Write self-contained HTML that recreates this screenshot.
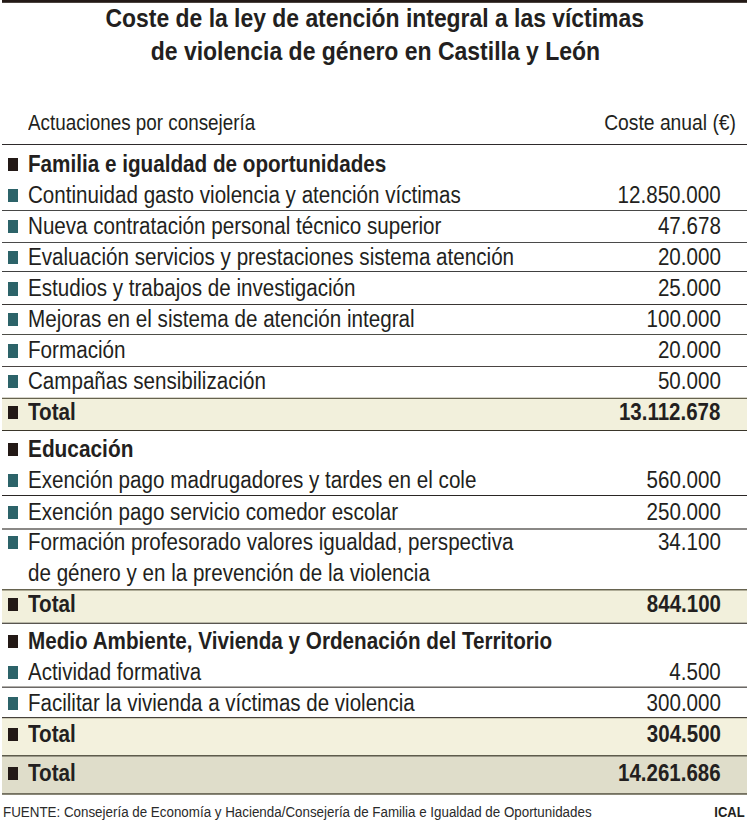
<!DOCTYPE html>
<html><head><meta charset="utf-8"><title>Coste ley violencia de género</title>
<style>
html,body{margin:0;padding:0;background:#fff;}
body{width:750px;height:824px;position:relative;overflow:hidden;font-family:"Liberation Sans",sans-serif;}
.t{position:absolute;white-space:nowrap;}
.r{position:absolute;}
</style></head><body>
<div class="r" style="left:2px;top:0px;width:745px;height:2px;background:#231916;"></div>
<div class="r" style="left:2px;top:2px;width:745px;height:1px;background:#4a423e;"></div>
<div class="t" style="left:0;width:750px;text-align:center;top:5.81px;font-size:25.5px;line-height:25.5px;font-weight:bold;color:#231f20;"><span style="display:inline-block;transform:scaleX(0.898);transform-origin:center 0;">Coste de la ley de atención integral a las víctimas</span></div>
<div class="t" style="left:0;width:750px;text-align:center;top:38.71px;font-size:25.5px;line-height:25.5px;font-weight:bold;color:#231f20;"><span style="display:inline-block;transform:scaleX(0.901);transform-origin:center 0;">de violencia de género en Castilla y León</span></div>
<div class="t" style="left:28.00px;top:113.30px;font-size:21.5px;line-height:21.5px;transform:scaleX(0.8760);transform-origin:left 0;color:#231f20;">Actuaciones por consejería</div>
<div class="t" style="right:14.50px;top:113.30px;font-size:21.5px;line-height:21.5px;transform:scaleX(0.8970);transform-origin:right 0;color:#231f20;">Coste anual (€)</div>
<div class="r" style="left:2px;top:399px;width:745px;height:31px;background:#f2f0dc;"></div>
<div class="r" style="left:2px;top:590px;width:745px;height:33px;background:#f2f0dc;"></div>
<div class="r" style="left:2px;top:718px;width:745px;height:37px;background:#f3f1dd;"></div>
<div class="r" style="left:2px;top:756px;width:745px;height:37px;background:#dfddca;"></div>
<div class="r" style="left:2px;top:144px;width:745px;height:1px;background:#2e2a2b;"></div>
<div class="r" style="left:2px;top:210px;width:745px;height:1px;background:#474746;"></div>
<div class="r" style="left:2px;top:242px;width:745px;height:1px;background:#4a4a4a;"></div>
<div class="r" style="left:2px;top:271px;width:745px;height:1px;background:#404040;"></div>
<div class="r" style="left:2px;top:304px;width:745px;height:1px;background:#3a3634;"></div>
<div class="r" style="left:2px;top:334px;width:745px;height:1px;background:#4e4e48;"></div>
<div class="r" style="left:2px;top:366px;width:745px;height:1px;background:#4a4442;"></div>
<div class="r" style="left:2px;top:397px;width:745px;height:1px;background:#d6d4ca;"></div>
<div class="r" style="left:2px;top:398px;width:745px;height:1px;background:#66634f;"></div>
<div class="r" style="left:2px;top:430px;width:745px;height:1px;background:#3a362a;"></div>
<div class="r" style="left:2px;top:495px;width:745px;height:1px;background:#2a2624;"></div>
<div class="r" style="left:2px;top:528px;width:745px;height:1px;background:#8a8886;"></div>
<div class="r" style="left:2px;top:529px;width:745px;height:1px;background:#8a8886;"></div>
<div class="r" style="left:2px;top:589px;width:745px;height:1px;background:#66634f;"></div>
<div class="r" style="left:2px;top:590px;width:745px;height:1px;background:#b0ad98;"></div>
<div class="r" style="left:2px;top:622px;width:745px;height:1px;background:#bab8a8;"></div>
<div class="r" style="left:2px;top:623px;width:745px;height:1px;background:#585550;"></div>
<div class="r" style="left:2px;top:686px;width:745px;height:1px;background:#b0aeaa;"></div>
<div class="r" style="left:2px;top:687px;width:745px;height:1px;background:#6b6866;"></div>
<div class="r" style="left:2px;top:717px;width:745px;height:1px;background:#46413a;"></div>
<div class="r" style="left:2px;top:718px;width:745px;height:1px;background:#cfccb8;"></div>
<div class="r" style="left:2px;top:755px;width:745px;height:1px;background:#5e5c4c;"></div>
<div class="r" style="left:2px;top:756px;width:745px;height:1px;background:#9a9888;"></div>
<div class="r" style="left:2px;top:793px;width:745px;height:1px;background:#737060;"></div>
<div class="r" style="left:2px;top:794px;width:745px;height:1px;background:#8a8878;"></div>
<div class="r" style="left:8px;top:158px;width:10px;height:13px;background:#231916;"></div>
<div class="t" style="left:27.80px;top:152.71px;font-size:23.5px;line-height:23.5px;font-weight:bold;transform:scaleX(0.8794);transform-origin:left 0;color:#231f20;">Familia e igualdad de oportunidades</div>
<div class="r" style="left:8px;top:189px;width:10px;height:13px;background:#2c6369;"></div>
<div class="t" style="left:27.80px;top:183.71px;font-size:23.5px;line-height:23.5px;transform:scaleX(0.8764);transform-origin:left 0;color:#231f20;">Continuidad gasto violencia y atención víctimas</div>
<div class="t" style="right:29.20px;top:183.71px;font-size:23.5px;line-height:23.5px;transform:scaleX(0.8760);transform-origin:right 0;color:#231f20;">12.850.000</div>
<div class="r" style="left:8px;top:220px;width:10px;height:13px;background:#2c6369;"></div>
<div class="t" style="left:27.80px;top:214.71px;font-size:23.5px;line-height:23.5px;transform:scaleX(0.8767);transform-origin:left 0;color:#231f20;">Nueva contratación personal técnico superior</div>
<div class="t" style="right:29.20px;top:214.71px;font-size:23.5px;line-height:23.5px;transform:scaleX(0.8760);transform-origin:right 0;color:#231f20;">47.678</div>
<div class="r" style="left:8px;top:251px;width:10px;height:13px;background:#2c6369;"></div>
<div class="t" style="left:27.80px;top:245.71px;font-size:23.5px;line-height:23.5px;transform:scaleX(0.8777);transform-origin:left 0;color:#231f20;">Evaluación servicios y prestaciones sistema atención</div>
<div class="t" style="right:29.20px;top:245.71px;font-size:23.5px;line-height:23.5px;transform:scaleX(0.8760);transform-origin:right 0;color:#231f20;">20.000</div>
<div class="r" style="left:8px;top:282px;width:10px;height:14px;background:#2c6369;"></div>
<div class="t" style="left:27.80px;top:276.71px;font-size:23.5px;line-height:23.5px;transform:scaleX(0.8766);transform-origin:left 0;color:#231f20;">Estudios y trabajos de investigación</div>
<div class="t" style="right:29.20px;top:276.71px;font-size:23.5px;line-height:23.5px;transform:scaleX(0.8760);transform-origin:right 0;color:#231f20;">25.000</div>
<div class="r" style="left:8px;top:313px;width:10px;height:13px;background:#2c6369;"></div>
<div class="t" style="left:27.80px;top:307.71px;font-size:23.5px;line-height:23.5px;transform:scaleX(0.8782);transform-origin:left 0;color:#231f20;">Mejoras en el sistema de atención integral</div>
<div class="t" style="right:29.20px;top:307.71px;font-size:23.5px;line-height:23.5px;transform:scaleX(0.8760);transform-origin:right 0;color:#231f20;">100.000</div>
<div class="r" style="left:8px;top:344px;width:10px;height:14px;background:#2c6369;"></div>
<div class="t" style="left:27.80px;top:338.71px;font-size:23.5px;line-height:23.5px;transform:scaleX(0.8785);transform-origin:left 0;color:#231f20;">Formación</div>
<div class="t" style="right:29.20px;top:338.71px;font-size:23.5px;line-height:23.5px;transform:scaleX(0.8760);transform-origin:right 0;color:#231f20;">20.000</div>
<div class="r" style="left:8px;top:375px;width:10px;height:13px;background:#2c6369;"></div>
<div class="t" style="left:27.80px;top:369.71px;font-size:23.5px;line-height:23.5px;transform:scaleX(0.8757);transform-origin:left 0;color:#231f20;">Campañas sensibilización</div>
<div class="t" style="right:29.20px;top:369.71px;font-size:23.5px;line-height:23.5px;transform:scaleX(0.8760);transform-origin:right 0;color:#231f20;">50.000</div>
<div class="r" style="left:8px;top:406px;width:10px;height:13px;background:#231916;"></div>
<div class="t" style="left:27.80px;top:400.71px;font-size:23.5px;line-height:23.5px;font-weight:bold;transform:scaleX(0.8796);transform-origin:left 0;color:#231f20;">Total</div>
<div class="t" style="right:29.20px;top:400.71px;font-size:23.5px;line-height:23.5px;font-weight:bold;transform:scaleX(0.8720);transform-origin:right 0;color:#231f20;">13.112.678</div>
<div class="r" style="left:8px;top:443px;width:10px;height:13px;background:#231916;"></div>
<div class="t" style="left:27.80px;top:437.71px;font-size:23.5px;line-height:23.5px;font-weight:bold;transform:scaleX(0.8866);transform-origin:left 0;color:#231f20;">Educación</div>
<div class="r" style="left:8px;top:474px;width:10px;height:13px;background:#2c6369;"></div>
<div class="t" style="left:27.80px;top:468.71px;font-size:23.5px;line-height:23.5px;transform:scaleX(0.8779);transform-origin:left 0;color:#231f20;">Exención pago madrugadores y tardes en el cole</div>
<div class="t" style="right:29.20px;top:468.71px;font-size:23.5px;line-height:23.5px;transform:scaleX(0.8760);transform-origin:right 0;color:#231f20;">560.000</div>
<div class="r" style="left:8px;top:506px;width:10px;height:13px;background:#2c6369;"></div>
<div class="t" style="left:27.80px;top:500.71px;font-size:23.5px;line-height:23.5px;transform:scaleX(0.8772);transform-origin:left 0;color:#231f20;">Exención pago servicio comedor escolar</div>
<div class="t" style="right:29.20px;top:500.71px;font-size:23.5px;line-height:23.5px;transform:scaleX(0.8760);transform-origin:right 0;color:#231f20;">250.000</div>
<div class="r" style="left:8px;top:536px;width:10px;height:13px;background:#2c6369;"></div>
<div class="t" style="left:27.80px;top:530.71px;font-size:23.5px;line-height:23.5px;transform:scaleX(0.8764);transform-origin:left 0;color:#231f20;">Formación profesorado valores igualdad, perspectiva</div>
<div class="t" style="right:29.20px;top:530.71px;font-size:23.5px;line-height:23.5px;transform:scaleX(0.8760);transform-origin:right 0;color:#231f20;">34.100</div>
<div class="t" style="left:27.80px;top:561.71px;font-size:23.5px;line-height:23.5px;transform:scaleX(0.8764);transform-origin:left 0;color:#231f20;">de género y en la prevención de la violencia</div>
<div class="r" style="left:8px;top:598px;width:10px;height:13px;background:#231916;"></div>
<div class="t" style="left:27.80px;top:592.71px;font-size:23.5px;line-height:23.5px;font-weight:bold;transform:scaleX(0.8796);transform-origin:left 0;color:#231f20;">Total</div>
<div class="t" style="right:29.20px;top:592.71px;font-size:23.5px;line-height:23.5px;font-weight:bold;transform:scaleX(0.8720);transform-origin:right 0;color:#231f20;">844.100</div>
<div class="r" style="left:8px;top:635px;width:10px;height:13px;background:#231916;"></div>
<div class="t" style="left:27.80px;top:629.71px;font-size:23.5px;line-height:23.5px;font-weight:bold;transform:scaleX(0.8791);transform-origin:left 0;color:#231f20;">Medio Ambiente, Vivienda y Ordenación del Territorio</div>
<div class="r" style="left:8px;top:666px;width:10px;height:13px;background:#2c6369;"></div>
<div class="t" style="left:27.80px;top:660.71px;font-size:23.5px;line-height:23.5px;transform:scaleX(0.8720);transform-origin:left 0;color:#231f20;">Actividad formativa</div>
<div class="t" style="right:29.20px;top:660.71px;font-size:23.5px;line-height:23.5px;transform:scaleX(0.8760);transform-origin:right 0;color:#231f20;">4.500</div>
<div class="r" style="left:8px;top:697px;width:10px;height:13px;background:#2c6369;"></div>
<div class="t" style="left:27.80px;top:691.71px;font-size:23.5px;line-height:23.5px;transform:scaleX(0.8734);transform-origin:left 0;color:#231f20;">Facilitar la vivienda a víctimas de violencia</div>
<div class="t" style="right:29.20px;top:691.71px;font-size:23.5px;line-height:23.5px;transform:scaleX(0.8760);transform-origin:right 0;color:#231f20;">300.000</div>
<div class="r" style="left:8px;top:728px;width:10px;height:13px;background:#231916;"></div>
<div class="t" style="left:27.80px;top:722.71px;font-size:23.5px;line-height:23.5px;font-weight:bold;transform:scaleX(0.8796);transform-origin:left 0;color:#231f20;">Total</div>
<div class="t" style="right:29.20px;top:722.71px;font-size:23.5px;line-height:23.5px;font-weight:bold;transform:scaleX(0.8720);transform-origin:right 0;color:#231f20;">304.500</div>
<div class="r" style="left:8px;top:767px;width:10px;height:13px;background:#231916;"></div>
<div class="t" style="left:27.80px;top:761.71px;font-size:23.5px;line-height:23.5px;font-weight:bold;transform:scaleX(0.8796);transform-origin:left 0;color:#231f20;">Total</div>
<div class="t" style="right:29.20px;top:761.71px;font-size:23.5px;line-height:23.5px;font-weight:bold;transform:scaleX(0.8720);transform-origin:right 0;color:#231f20;">14.261.686</div>
<div class="t" style="left:2.80px;top:805.05px;font-size:14px;line-height:14px;transform:scaleX(0.9550);transform-origin:left 0;color:#2a2a2a;">FUENTE: Consejería de Economía y Hacienda/Consejería de Familia e Igualdad de Oportunidades</div>
<div class="t" style="right:5.00px;top:805.05px;font-size:14px;line-height:14px;font-weight:bold;transform:scaleX(0.9300);transform-origin:right 0;color:#231f20;">ICAL</div>
</body></html>
